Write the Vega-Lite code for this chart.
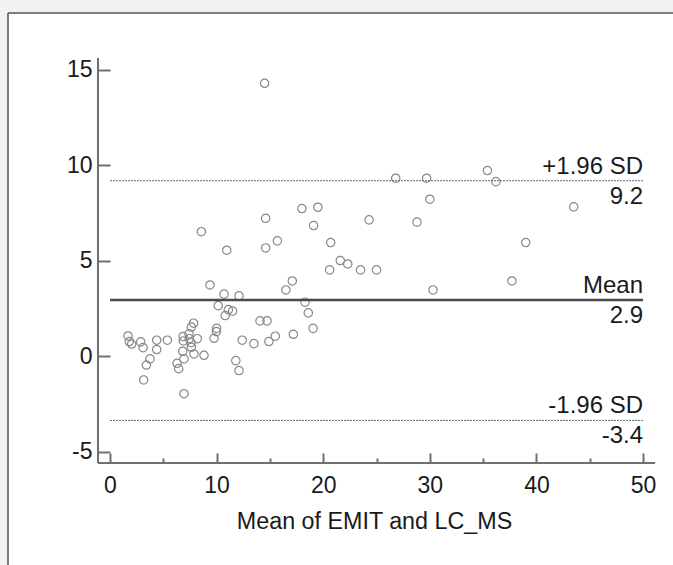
{
  "$schema": "https://vega.github.io/schema/vega-lite/v6.json",
  "width": 665,
  "height": 552,
  "autosize": {"type": "none"},
  "padding": {"left": 8, "top": 13, "right": 0, "bottom": 0},
  "background": "#f2f2f2",
  "config": {
    "view": {"fill": "white", "stroke": null},
    "font": "Liberation Sans"
  },
  "datasets": {
    "points": [
      {"m": 1.69, "d": 1.07}, {"m": 1.81, "d": 0.78}, {"m": 2.03, "d": 0.65}, {"m": 2.88, "d": 0.76},
      {"m": 3.1, "d": 0.46}, {"m": 3.16, "d": -1.23}, {"m": 3.41, "d": -0.45}, {"m": 3.75, "d": -0.13},
      {"m": 4.38, "d": 0.85}, {"m": 4.38, "d": 0.36}, {"m": 5.38, "d": 0.85}, {"m": 6.29, "d": -0.36},
      {"m": 6.44, "d": -0.64}, {"m": 6.94, "d": -1.95}, {"m": 6.82, "d": 0.27}, {"m": 6.94, "d": -0.13},
      {"m": 6.85, "d": 1.04}, {"m": 6.88, "d": 0.81}, {"m": 7.41, "d": 1.18}, {"m": 7.44, "d": 0.93},
      {"m": 7.63, "d": 1.54}, {"m": 7.84, "d": 1.74}, {"m": 7.63, "d": 0.48}, {"m": 7.88, "d": 0.13},
      {"m": 7.6, "d": 0.72}, {"m": 8.19, "d": 0.93}, {"m": 8.82, "d": 0.06}, {"m": 9.76, "d": 0.95},
      {"m": 9.98, "d": 1.3}, {"m": 10.0, "d": 1.47}, {"m": 10.15, "d": 2.66}, {"m": 10.8, "d": 2.14},
      {"m": 11.1, "d": 2.45}, {"m": 11.5, "d": 2.37}, {"m": 9.38, "d": 3.74}, {"m": 10.7, "d": 3.26},
      {"m": 12.1, "d": 3.17}, {"m": 11.8, "d": -0.22}, {"m": 12.1, "d": -0.74}, {"m": 12.4, "d": 0.85},
      {"m": 13.5, "d": 0.67}, {"m": 14.07, "d": 1.86}, {"m": 14.73, "d": 1.86}, {"m": 14.9, "d": 0.78},
      {"m": 15.5, "d": 1.06}, {"m": 17.2, "d": 1.16}, {"m": 16.5, "d": 3.48}, {"m": 17.1, "d": 3.95},
      {"m": 18.3, "d": 2.84}, {"m": 18.6, "d": 2.28}, {"m": 19.05, "d": 1.47}, {"m": 8.57, "d": 6.53},
      {"m": 10.95, "d": 5.56}, {"m": 14.6, "d": 5.68}, {"m": 14.6, "d": 7.23}, {"m": 15.7, "d": 6.05},
      {"m": 18.0, "d": 7.74}, {"m": 19.5, "d": 7.81}, {"m": 19.1, "d": 6.85}, {"m": 14.5, "d": 14.3},
      {"m": 20.7, "d": 5.96}, {"m": 21.6, "d": 5.02}, {"m": 22.3, "d": 4.84}, {"m": 20.6, "d": 4.53},
      {"m": 23.5, "d": 4.53}, {"m": 25.0, "d": 4.53}, {"m": 24.3, "d": 7.15}, {"m": 26.8, "d": 9.33},
      {"m": 28.8, "d": 7.03}, {"m": 29.7, "d": 9.33}, {"m": 30.0, "d": 8.23}, {"m": 30.3, "d": 3.48},
      {"m": 35.4, "d": 9.73}, {"m": 36.2, "d": 9.15}, {"m": 37.7, "d": 3.95}, {"m": 39.0, "d": 5.96},
      {"m": 43.5, "d": 7.83}
    ],
    "limits": [
      {"y": 9.2},
      {"y": -3.35}
    ],
    "mean": [
      {"y": 2.95}
    ],
    "labels": [
      {"y": 9.2, "above": "+1.96 SD", "below": "9.2"},
      {"y": 2.95, "above": "Mean", "below": "2.9"},
      {"y": -3.35, "above": "-1.96 SD", "below": "-3.4"}
    ]
  },
  "layer": [
    {
      "data": {"name": "points"},
      "mark": {"type": "point", "shape": "circle", "filled": false, "stroke": "#888888", "strokeWidth": 1.2, "size": 70, "opacity": 1},
      "encoding": {
        "x": {
          "field": "m", "type": "quantitative",
          "scale": {"domain": [-9.568, 52.81], "nice": false, "zero": false},
          "axis": {
            "title": "Mean of EMIT and LC_MS",
            "titleX": 366, "titleAnchor": "middle", "titleAlign": "center",
            "values": [0, 5, 10, 15, 20, 25, 30, 35, 40, 45, 50],
            "labelExpr": "datum.value % 10 === 0 ? datum.label : ''",
            "domain": false, "grid": false, "offset": -102,
            "tickSize": {"condition": {"test": "datum.value % 10 === 0", "value": -10}, "value": -5},
            "tickColor": "#707070", "tickWidth": 2,
            "labelFontSize": 23, "labelColor": "#1a1a1a", "labelPadding": 21,
            "titleFontSize": 23.3, "titleFontWeight": "normal", "titleColor": "#1a1a1a", "titlePadding": 13
          }
        },
        "y": {
          "field": "d", "type": "quantitative",
          "scale": {"domain": [-10.92, 17.98], "nice": false, "zero": false},
          "axis": {
            "title": null,
            "values": [-5, 0, 5, 10, 15],
            "labelExpr": "datum.value < 0 ? '-' + abs(datum.value) : datum.label",
            "domain": false, "grid": false, "offset": -90,
            "tickSize": -12, "tickColor": "#707070", "tickWidth": 2,
            "labelFontSize": 23, "labelColor": "#1a1a1a", "labelPadding": 18
          }
        }
      }
    },
    {
      "data": {"values": [{"edge": "top"}]},
      "mark": {"type": "rule", "color": "#555555", "strokeWidth": 1.5},
      "encoding": {"x": {"datum": -9.568}, "x2": {"datum": 52.81}, "y": {"datum": 17.98}}
    },
    {
      "data": {"values": [{"edge": "left"}]},
      "mark": {"type": "rule", "color": "#555555", "strokeWidth": 1.5},
      "encoding": {"x": {"datum": -9.568}, "y": {"datum": -10.92}, "y2": {"datum": 17.98}}
    },
    {
      "data": {"values": [{"axis": "x"}]},
      "mark": {"type": "rule", "color": "#707070", "strokeWidth": 2},
      "encoding": {"x": {"datum": -1.126}, "x2": {"datum": 51.13}, "y": {"datum": -5.576}}
    },
    {
      "data": {"values": [{"axis": "y"}]},
      "mark": {"type": "rule", "color": "#707070", "strokeWidth": 2},
      "encoding": {"x": {"datum": -1.126}, "y": {"datum": -5.576}, "y2": {"datum": 15.63}}
    },
    {
      "data": {"name": "limits"},
      "mark": {"type": "rule", "color": "#666666", "strokeWidth": 1, "strokeDash": [2, 1]},
      "encoding": {"x": {"datum": 0}, "x2": {"datum": 50}, "y": {"field": "y", "type": "quantitative"}}
    },
    {
      "data": {"name": "mean"},
      "mark": {"type": "rule", "color": "#4a4a4a", "strokeWidth": 2.5},
      "encoding": {"x": {"datum": 0}, "x2": {"datum": 50}, "y": {"field": "y", "type": "quantitative"}}
    },
    {
      "data": {"name": "labels"},
      "mark": {"type": "text", "align": "right", "baseline": "alphabetic", "dy": -7, "fontSize": 24, "color": "#1a1a1a"},
      "encoding": {"x": {"datum": 50}, "y": {"field": "y", "type": "quantitative"}, "text": {"field": "above"}}
    },
    {
      "data": {"name": "labels"},
      "mark": {"type": "text", "align": "right", "baseline": "top", "dy": 4, "fontSize": 24, "color": "#1a1a1a"},
      "encoding": {"x": {"datum": 50}, "y": {"field": "y", "type": "quantitative"}, "text": {"field": "below"}}
    }
  ]
}
